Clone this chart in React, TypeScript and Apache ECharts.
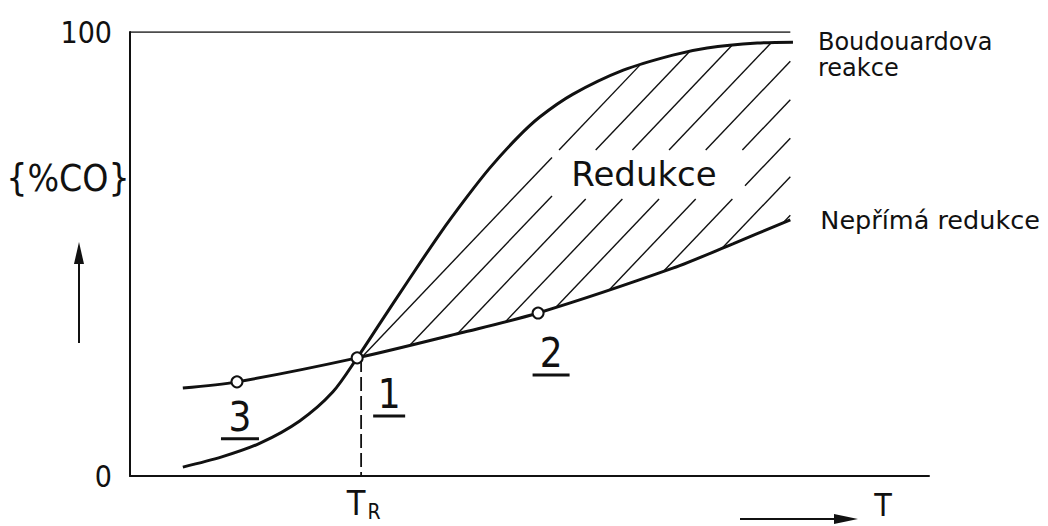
import React, { useEffect, useRef } from "react";
import * as echarts from "echarts";

// Boudouard reaction equilibrium curve (% CO vs. temperature, arbitrary T units)
const boudouard: [number, number][] = [
  [8.0, 2.0], [13.9, 4.3], [19.7, 7.4], [25.7, 12.4], [30.7, 18.9], [34.4, 26.6],
  [37.9, 34.5], [42.0, 43.7], [46.9, 54.5], [51.0, 62.8], [54.5, 69.4], [58.6, 76.1],
  [62.1, 80.9], [67.1, 86.0], [74.7, 91.4], [82.2, 94.8], [87.4, 96.4], [95.0, 97.5],
  [100.4, 97.7],
];

// Indirect reduction equilibrium curve
const neprima: [number, number][] = [
  [8.0, 19.8], [16.2, 21.2], [34.4, 26.6], [50.0, 32.2], [61.8, 36.7],
  [82.2, 46.8], [91.3, 52.3], [100.0, 57.7],
];

// Marked states on the curves
const pointNames = ["3", "1", "2"];
const pointX = [16.2, 34.4, 61.8];
const pointY = [21.2, 26.6, 36.7];

// Reduction temperature T_R and the frame limits
const tR = 35.0;
const frameTop = 100;
const frameRightX = 100;
const axisMaxX = 121;

const INK = "#111";
const FONT = "'DejaVu Sans', 'Noto Sans', sans-serif";
const FONT_NARROW = "'DejaVu Sans Condensed', 'Liberation Sans Narrow', 'DejaVu Sans', sans-serif";

// label offsets for the numbered points (digit + underline)
const pointLabelOffsets: [number, number][] = [[3, 38], [32, 39], [13, 43]];
const underlineWidths = [38, 32, 37];

function hatchRender(params: any, api: any) {
  if (params.dataIndex !== 0) return null;
  const x0 = pointX[1];
  const up = boudouard.filter((p) => p[0] >= x0).map((p) => api.coord(p));
  const lo = neprima.filter((p) => p[0] >= x0).map((p) => api.coord(p));
  const xR = api.coord([frameRightX, 0])[0];
  const m = 1.05;
  const step = 38.5;
  const cStart = 1045;
  // clear window around the "Redukce" label
  const gx1 = 552, gx2 = 745, gy1 = 150, gy2 = 199;

  const cross = (pts: number[][], c: number, minX: number) => {
    for (let i = 0; i < pts.length - 1; i++) {
      const [x1, y1] = pts[i];
      const [x2, y2] = pts[i + 1];
      const f1 = m * x1 + y1 - c;
      const f2 = m * x2 + y2 - c;
      if ((f1 <= 0 && f2 > 0) || (f1 >= 0 && f2 < 0)) {
        const t = f1 / (f1 - f2);
        const x = x1 + t * (x2 - x1);
        if (x > minX) return [x, y1 + t * (y2 - y1)];
      }
    }
    return null;
  };

  const children: any[] = [];
  const addSeg = (xa: number, xb: number, c: number) => {
    if (xb - xa < 0.5) return;
    children.push({
      type: "line",
      shape: { x1: xa, y1: c - m * xa, x2: xb, y2: c - m * xb },
      style: { stroke: INK, lineWidth: 1.4 },
    });
  };

  for (let k = 0; k < 12; k++) {
    const c = cStart - step * k;
    const A = cross(lo, c, -Infinity);
    if (!A || A[0] > xR) continue;
    const B = cross(up, c, A[0] + 0.5);
    const endX = B && B[0] <= xR ? B[0] : xR;
    const startX = A[0];
    // split around the label window
    const lo2 = Math.max(gx1, (c - gy2) / m);
    const hi2 = Math.min(gx2, (c - gy1) / m);
    if (lo2 < hi2 && hi2 > startX && lo2 < endX) {
      addSeg(startX, Math.max(startX, lo2), c);
      addSeg(Math.min(endX, hi2), endX, c);
    } else {
      addSeg(startX, endX, c);
    }
  }
  return { type: "group", children };
}

export default function App() {
  const ref = useRef<HTMLDivElement>(null);

  useEffect(() => {
    if (!ref.current) return;
    const chart = echarts.init(ref.current, null, { renderer: "svg" });

    const points = pointNames.map((n, i) => ({
      name: n,
      value: [pointX[i], pointY[i]],
      label: {
        show: true,
        position: "inside",
        offset: pointLabelOffsets[i],
        color: INK,
        formatter: `{n|${n}}\n{u|}`,
        rich: {
          n: { fontSize: 40, lineHeight: 38, color: INK, fontFamily: FONT_NARROW, align: "center" },
          u: { width: underlineWidths[i], height: 3, backgroundColor: INK, lineHeight: 6, align: "center" },
        },
      },
    }));

    chart.setOption({
      animation: false,
      backgroundColor: "#fff",
      grid: { left: 130, right: 119, top: 32, bottom: 50 },
      xAxis: {
        type: "value",
        min: 0,
        max: axisMaxX,
        axisLine: { show: true, lineStyle: { color: INK, width: 2 } },
        axisTick: { show: false },
        axisLabel: { show: false },
        splitLine: { show: false },
      },
      yAxis: {
        type: "value",
        min: 0,
        max: frameTop,
        interval: 100,
        axisLine: { show: true, lineStyle: { color: INK, width: 2 } },
        axisTick: { show: false },
        axisLabel: { color: INK, fontSize: 30, margin: 18, fontFamily: FONT_NARROW },
        splitLine: { show: false },
      },
      series: [
        {
          type: "custom",
          renderItem: hatchRender,
          data: [[0, 0]],
          silent: true,
          z: 1,
        },
        {
          name: "frame",
          type: "line",
          data: [[0, frameTop], [frameRightX, frameTop]],
          symbol: "none",
          lineStyle: { color: INK, width: 1.6 },
          z: 2,
        },
        {
          name: "Boudouardova reakce",
          type: "line",
          data: boudouard,
          smooth: 0.3,
          symbol: "none",
          lineStyle: { color: INK, width: 3 },
          endLabel: {
            show: true,
            formatter: "Boudouardova\nreakce",
            distance: 25,
            offset: [0, 13],
            color: INK,
            fontSize: 24,
            lineHeight: 26,
            fontFamily: FONT,
          },
          z: 3,
        },
        {
          name: "Nepřímá redukce",
          type: "line",
          data: neprima,
          smooth: 0.3,
          symbol: "none",
          lineStyle: { color: INK, width: 3 },
          endLabel: {
            show: true,
            formatter: "Nepřímá redukce",
            distance: 30,
            color: INK,
            fontSize: 25.5,
            fontFamily: FONT,
          },
          z: 3,
        },
        {
          name: "TR",
          type: "line",
          data: [[tR, pointY[1]], [tR, 0]],
          symbol: "none",
          lineStyle: { color: INK, width: 1.8, type: [14, 5] },
          z: 2,
        },
        {
          name: "body",
          type: "scatter",
          data: points,
          symbol: "circle",
          symbolSize: 11,
          itemStyle: { color: "#fff", borderColor: INK, borderWidth: 2, opacity: 1 },
          z: 5,
        },
      ],
      graphic: [
        {
          type: "text",
          x: 644,
          y: 174,
          style: { text: "Redukce", fontSize: 34, fontFamily: FONT, fill: INK, align: "center", verticalAlign: "middle" },
        },
        {
          type: "text",
          x: 68,
          y: 178,
          style: { text: "{%CO}", fontSize: 37, fontFamily: FONT_NARROW, fill: INK, align: "center", verticalAlign: "middle" },
        },
        { type: "line", shape: { x1: 79, y1: 343, x2: 79, y2: 258 }, style: { stroke: INK, lineWidth: 2 } },
        { type: "polygon", shape: { points: [[74, 264], [84, 264], [79, 242]] }, style: { fill: INK } },
        {
          type: "text",
          x: 356,
          y: 503,
          style: { text: "T", fontSize: 34, fontFamily: FONT_NARROW, fill: INK, align: "center", verticalAlign: "middle" },
        },
        {
          type: "text",
          x: 374,
          y: 512,
          style: { text: "R", fontSize: 21, fontFamily: FONT_NARROW, fill: INK, align: "center", verticalAlign: "middle" },
        },
        { type: "line", shape: { x1: 740, y1: 519, x2: 840, y2: 519 }, style: { stroke: INK, lineWidth: 2 } },
        { type: "polygon", shape: { points: [[834, 514], [834, 524], [858, 519]] }, style: { fill: INK } },
        {
          type: "text",
          x: 883,
          y: 505,
          style: { text: "T", fontSize: 32, fontFamily: FONT_NARROW, fill: INK, align: "center", verticalAlign: "middle" },
        },
      ],
    });

    return () => chart.dispose();
  }, []);

  return (
    <div
      ref={ref}
      style={{ position: "fixed", left: 0, top: 0, width: 1048, height: 526, background: "#fff" }}
    />
  );
}
